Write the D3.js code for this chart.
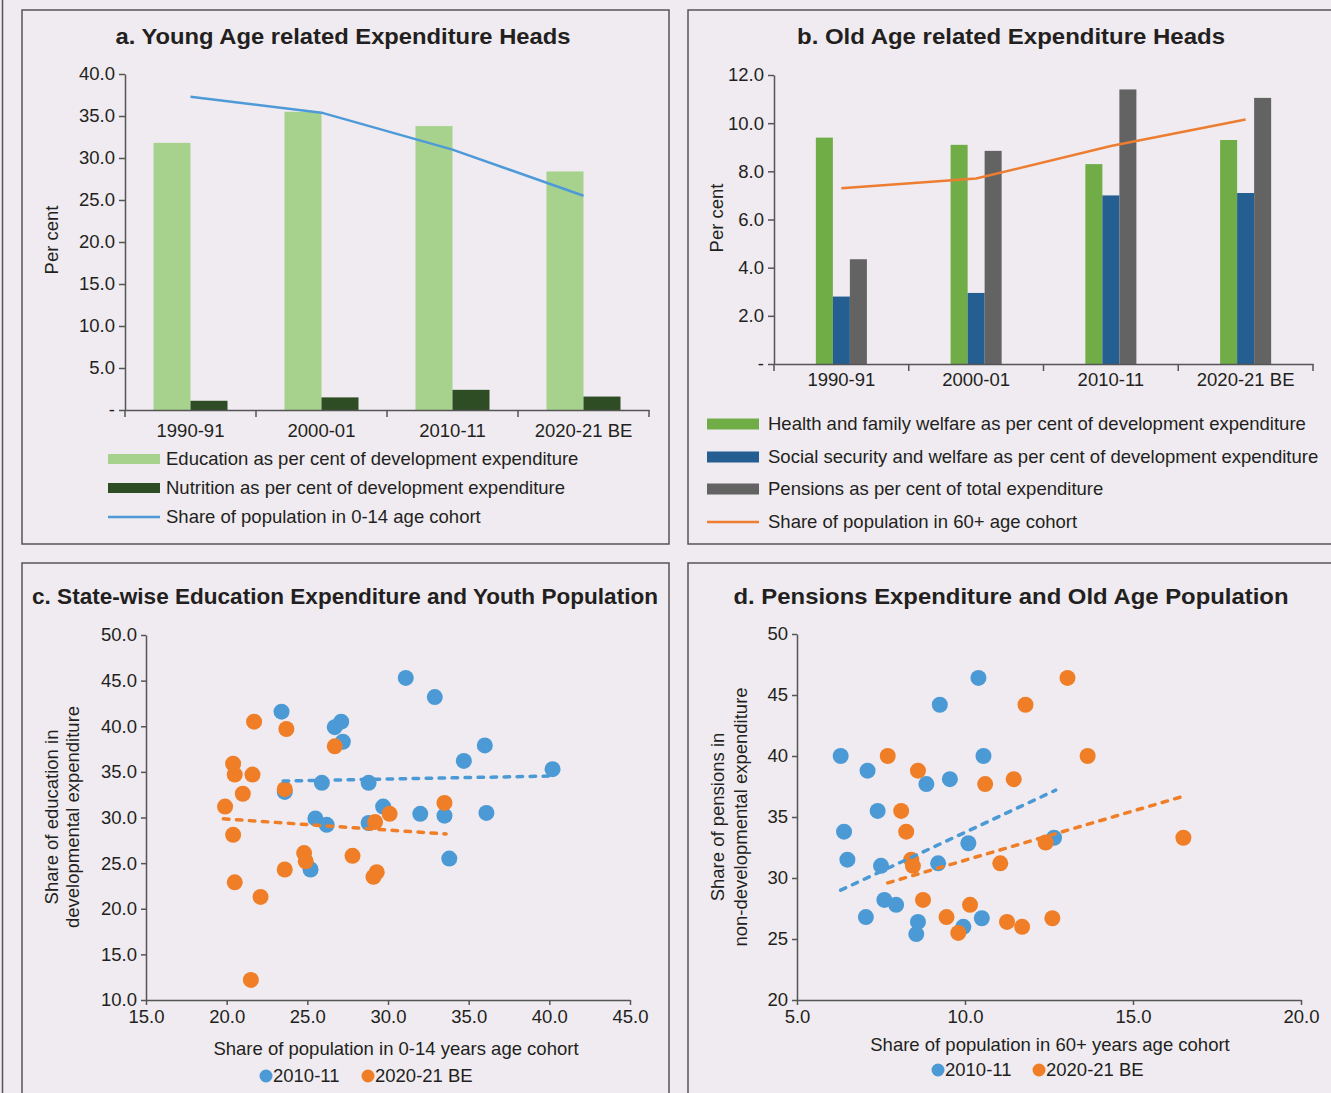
<!DOCTYPE html>
<html>
<head>
<meta charset="UTF-8">
<style type='text/css'>
  body { margin: 0; background: #efebf0; }
  svg { display: block; font-family: "Liberation Sans", Arial, sans-serif; }
  .title { font-weight: bold; font-size: 22px; fill: #231f20; }
  .lbl { font-size: 18.5px; fill: #231f20; }
  .axis text { font-size: 18.5px; fill: #231f20; font-family: "Liberation Sans", Arial, sans-serif; }
  .axis path, .axis line { stroke: #555; stroke-width: 1.5px; }
</style>
</head>
<body>
<svg></svg>
<script src="https://d3js.org/d3.v7.min.js"></script>
<script>

// ---- data ----
const categories = ["1990-91", "2000-01", "2010-11", "2020-21 BE"];

// panel a
const education = [31.8, 35.5, 33.8, 28.4];
const nutrition = [1.1, 1.5, 2.4, 1.6];
const youngShare = [37.3, 35.4, 31.0, 25.5];
const yTicksA = [0, 5, 10, 15, 20, 25, 30, 35, 40];

// panel b
const health = [9.4, 9.1, 8.3, 9.3];
const socialSec = [2.8, 2.95, 7.0, 7.1];
const pensionsTotal = [4.35, 8.85, 11.4, 11.05];
const oldShare = [7.3, 7.7, 9.05, 10.15];
const yTicksB = [0, 2, 4, 6, 8, 10, 12];

// panel c : [share 0-14, share of education]
const edu2011 = [[31.1,45.3],[32.9,43.2],[23.4,41.6],[27.1,40.5],[26.7,39.9],[27.2,38.3],[36.0,37.9],
  [34.7,36.2],[40.2,35.3],[25.9,33.8],[28.8,33.8],[23.6,32.8],[29.7,31.2],[32.0,30.4],[33.5,30.2],
  [36.1,30.5],[25.5,29.9],[26.2,29.2],[28.8,29.4],[33.8,25.5],[25.2,24.3]];
const edu2021 = [[21.7,40.5],[23.7,39.7],[26.7,37.8],[20.4,35.9],[20.5,34.7],[21.6,34.7],[21.0,32.6],
  [23.6,33.1],[19.9,31.2],[20.4,28.1],[30.1,30.4],[29.2,29.5],[24.8,26.1],[24.9,25.2],[27.8,25.8],
  [23.6,24.3],[29.3,24.0],[29.1,23.5],[20.5,22.9],[22.1,21.3],[21.5,12.2],[33.5,31.6]];
const eduTrend2011 = [[23.5,34.0],[40.2,34.55]];
const eduTrend2021 = [[19.8,29.85],[33.6,28.2]];
const xTicksC = [15, 20, 25, 30, 35, 40, 45];
const yTicksC = [10, 15, 20, 25, 30, 35, 40, 45, 50];

// panel d : [share 60+, share of pensions]
const pen2011 = [[6.3,40.0],[7.1,38.8],[8.85,37.7],[9.55,38.1],[7.4,35.5],[6.4,33.8],[6.5,31.5],
  [7.5,31.0],[9.2,31.2],[10.1,32.85],[7.6,28.2],[7.95,27.8],[7.05,26.8],[8.6,26.4],[8.55,25.4],
  [9.25,44.2],[9.95,26.0],[10.4,46.4],[10.55,40.0],[12.65,33.3],[10.5,26.7]];
const pen2021 = [[7.7,40.0],[8.6,38.8],[8.1,35.5],[8.25,33.8],[8.4,31.5],[8.45,31.0],[8.75,28.2],
  [9.45,26.8],[9.8,25.5],[10.15,27.8],[13.05,46.4],[11.8,44.2],[13.65,40.0],[10.6,37.7],[11.45,38.1],
  [12.4,32.9],[11.05,31.2],[11.25,26.4],[11.7,26.0],[12.6,26.7],[16.5,33.3]];
const penTrend2011 = [[6.3,29.0],[12.7,37.2]];
const penTrend2021 = [[7.7,29.6],[16.5,36.7]];
const xTicksD = [5, 10, 15, 20];
const yTicksD = [20, 25, 30, 35, 40, 45, 50];

const seriesNames = ["2010-11", "2020-21 BE"];

// ---- canvas ----
let width = 1331, height = 1093;
let svg = d3.select("svg").attr("width", width).attr("height", height);

const BLUE = "#4c9ad5", ORANGE = "#ef7e27";

// outer line + panel frames
svg.append("line").attr("x1", 2.5).attr("x2", 2.5).attr("y1", 0).attr("y2", height)
  .attr("stroke", "#555").attr("stroke-width", 1.5);
[[22,10,647,534],[688,10,660,534],[22,563,647,560],[688,563,660,560]].forEach(r => {
  svg.append("rect").attr("x", r[0]).attr("y", r[1]).attr("width", r[2]).attr("height", r[3])
    .attr("fill", "none").attr("stroke", "#555").attr("stroke-width", 1.5);
});

function title(txt, cx, y, len) {
  svg.append("text").attr("class", "title").attr("x", cx).attr("y", y)
    .attr("text-anchor", "middle").attr("textLength", len).attr("lengthAdjust", "spacingAndGlyphs")
    .text(txt);
}
function vlabel(lines, xs, cy) {
  lines.forEach((t, i) => {
    svg.append("text").attr("class", "lbl")
      .attr("transform", "translate(" + xs[i] + "," + cy + ") rotate(-90)")
      .attr("text-anchor", "middle").attr("dy", "0.35em").text(t);
  });
}
const fmt1 = d => d === 0 ? "-" : d3.format(".1f")(d);

// ================= panel a =================
title("a. Young Age related Expenditure Heads", 343, 44, 455);
{
  let x = d3.scaleBand().domain(categories).range([125, 649]);
  let sub = d3.scaleBand().domain(["edu", "nut"]).range([0, x.bandwidth()]).paddingOuter(0.77);
  let y = d3.scaleLinear().domain([0, 40]).range([410, 74]);

  let g = svg.append("g");
  categories.forEach((c, i) => {
    g.append("rect").attr("x", x(c) + sub("edu")).attr("width", sub.bandwidth())
      .attr("y", y(education[i])).attr("height", y(0) - y(education[i])).attr("fill", "#a7d28d");
    g.append("rect").attr("x", x(c) + sub("nut")).attr("width", sub.bandwidth())
      .attr("y", y(nutrition[i])).attr("height", y(0) - y(nutrition[i])).attr("fill", "#2e4d24");
  });

  g.append("path").datum(youngShare)
    .attr("d", d3.line().x((d, i) => x(categories[i]) + x.bandwidth() / 2).y(d => y(d)))
    .attr("fill", "none").attr("stroke", "#4e9ad8").attr("stroke-width", 2.5);

  svg.append("g").attr("class", "axis").attr("transform", "translate(125,0)")
    .call(d3.axisLeft(y).tickValues(yTicksA).tickFormat(fmt1).tickSize(6).tickPadding(4).tickSizeOuter(0));
  let xa = svg.append("g").attr("class", "axis").attr("transform", "translate(0,410)")
    .call(d3.axisBottom(x).tickSize(0).tickPadding(14));
  categories.concat([null]).forEach(c => {
    let px = c === null ? x.range()[1] : x(c);
    xa.append("line").attr("x1", px).attr("x2", px).attr("y1", 0).attr("y2", 7);
  });

  vlabel(["Per cent"], [52], 240);

  let leg = [["Education as per cent of development expenditure", "rect", "#a7d28d", 459],
             ["Nutrition as per cent of development expenditure", "rect", "#2e4d24", 488],
             ["Share of population in 0-14 age cohort", "line", "#4e9ad8", 517]];
  leg.forEach(l => {
    if (l[1] === "rect") svg.append("rect").attr("x", 108).attr("y", l[3] - 5).attr("width", 52).attr("height", 10).attr("fill", l[2]);
    else svg.append("line").attr("x1", 108).attr("x2", 160).attr("y1", l[3]).attr("y2", l[3]).attr("stroke", l[2]).attr("stroke-width", 2.5);
    svg.append("text").attr("class", "lbl").attr("x", 166).attr("y", l[3]).attr("dy", "0.35em").text(l[0]);
  });
}

// ================= panel b =================
title("b. Old Age related Expenditure Heads", 1011, 44, 428);
{
  let x = d3.scaleBand().domain(categories).range([774, 1313]);
  let keys = ["health", "social", "pension"];
  let vals = { health: health, social: socialSec, pension: pensionsTotal };
  let cols = { health: "#70ad47", social: "#255e91", pension: "#636363" };
  let sub = d3.scaleBand().domain(keys).range([0, x.bandwidth()]).paddingOuter(2.46);
  let y = d3.scaleLinear().domain([0, 12]).range([364, 75]);

  let g = svg.append("g");
  categories.forEach((c, i) => {
    keys.forEach(k => {
      g.append("rect").attr("x", x(c) + sub(k)).attr("width", sub.bandwidth())
        .attr("y", y(vals[k][i])).attr("height", y(0) - y(vals[k][i])).attr("fill", cols[k]);
    });
  });

  g.append("path").datum(oldShare)
    .attr("d", d3.line().x((d, i) => x(categories[i]) + x.bandwidth() / 2).y(d => y(d)))
    .attr("fill", "none").attr("stroke", "#ed7d31").attr("stroke-width", 2.5);

  svg.append("g").attr("class", "axis").attr("transform", "translate(774,0)")
    .call(d3.axisLeft(y).tickValues(yTicksB).tickFormat(fmt1).tickSize(6).tickPadding(4).tickSizeOuter(0));
  let xa = svg.append("g").attr("class", "axis").attr("transform", "translate(0,364)")
    .call(d3.axisBottom(x).tickSize(0).tickPadding(9));
  categories.concat([null]).forEach(c => {
    let px = c === null ? x.range()[1] : x(c);
    xa.append("line").attr("x1", px).attr("x2", px).attr("y1", 0).attr("y2", 7);
  });

  vlabel(["Per cent"], [717], 218);

  let leg = [["Health and family welfare as per cent of development expenditure", "rect", "#70ad47", 424],
             ["Social security and welfare as per cent of development expenditure", "rect", "#255e91", 457],
             ["Pensions as per cent of total expenditure", "rect", "#636363", 489],
             ["Share of population in 60+ age cohort", "line", "#ed7d31", 522]];
  leg.forEach(l => {
    if (l[1] === "rect") svg.append("rect").attr("x", 707).attr("y", l[3] - 5.5).attr("width", 52).attr("height", 11).attr("fill", l[2]);
    else svg.append("line").attr("x1", 707).attr("x2", 759).attr("y1", l[3]).attr("y2", l[3]).attr("stroke", l[2]).attr("stroke-width", 2.5);
    svg.append("text").attr("class", "lbl").attr("x", 768).attr("y", l[3]).attr("dy", "0.35em").text(l[0]);
  });
}

// ================= scatter helper =================
function scatter(o) {
  let x = d3.scaleLinear().domain(o.xd).range(o.xr);
  let y = d3.scaleLinear().domain(o.yd).range(o.yr);
  let g = svg.append("g");
  [[o.s1, BLUE], [o.s2, ORANGE]].forEach(s => {
    g.selectAll(null).data(s[0]).enter().append("circle")
      .attr("cx", d => x(d[0])).attr("cy", d => y(d[1])).attr("r", 8).attr("fill", s[1]);
  });
  [[o.t1, BLUE], [o.t2, ORANGE]].forEach(t => {
    g.append("path").datum(t[0]).attr("d", d3.line().x(d => x(d[0])).y(d => y(d[1])))
      .attr("fill", "none").attr("stroke", t[1]).attr("stroke-width", 3.5)
      .attr("stroke-linecap", "round").attr("stroke-dasharray", "5.5,7.5");
  });
  svg.append("g").attr("class", "axis").attr("transform", "translate(" + o.xr[0] + ",0)")
    .call(d3.axisLeft(y).tickValues(o.yt).tickFormat(o.yf).tickSize(5).tickPadding(4).tickSizeOuter(0));
  svg.append("g").attr("class", "axis").attr("transform", "translate(0," + o.yr[0] + ")")
    .call(d3.axisBottom(x).tickValues(o.xt).tickFormat(d3.format(".1f")).tickSize(5).tickPadding(5).tickSizeOuter(0));

  svg.append("text").attr("class", "lbl").attr("x", o.xtx).attr("y", o.xty).attr("dy", "0.35em")
    .attr("text-anchor", "middle").text(o.xtitle);
  vlabel(o.ytitle, o.ytx, 817);

  // legend
  seriesNames.forEach((n, i) => {
    svg.append("circle").attr("cx", o.legx[i]).attr("cy", o.legy).attr("r", 6.5).attr("fill", i ? ORANGE : BLUE);
    svg.append("text").attr("class", "lbl").attr("x", o.legx[i] + 7).attr("y", o.legy).attr("dy", "0.35em").text(n);
  });
}

// ================= panel c =================
title("c. State-wise Education Expenditure and Youth Population", 345, 604, 626);
scatter({
  xd: [15, 45], xr: [146, 630], yd: [10, 50], yr: [1000, 635],
  s1: edu2011, s2: edu2021, t1: eduTrend2011, t2: eduTrend2021,
  xt: xTicksC, yt: yTicksC, yf: d3.format(".1f"),
  xtitle: "Share of population in 0-14 years age cohort", xtx: 396, xty: 1049,
  ytitle: ["Share of education in", "developmental expenditure"], ytx: [52, 73],
  legx: [266, 368], legy: 1076
});

// ================= panel d =================
title("d. Pensions Expenditure and Old Age Population", 1011, 604, 555);
scatter({
  xd: [5, 20], xr: [797, 1301], yd: [20, 50], yr: [1000, 634],
  s1: pen2011, s2: pen2021, t1: penTrend2011, t2: penTrend2021,
  xt: xTicksD, yt: yTicksD, yf: d3.format("d"),
  xtitle: "Share of population in 60+ years age cohort", xtx: 1050, xty: 1045,
  ytitle: ["Share of pensions in", "non-developmental expenditure"], ytx: [718, 741],
  legx: [938, 1039], legy: 1070
});

</script>
</body>
</html>
